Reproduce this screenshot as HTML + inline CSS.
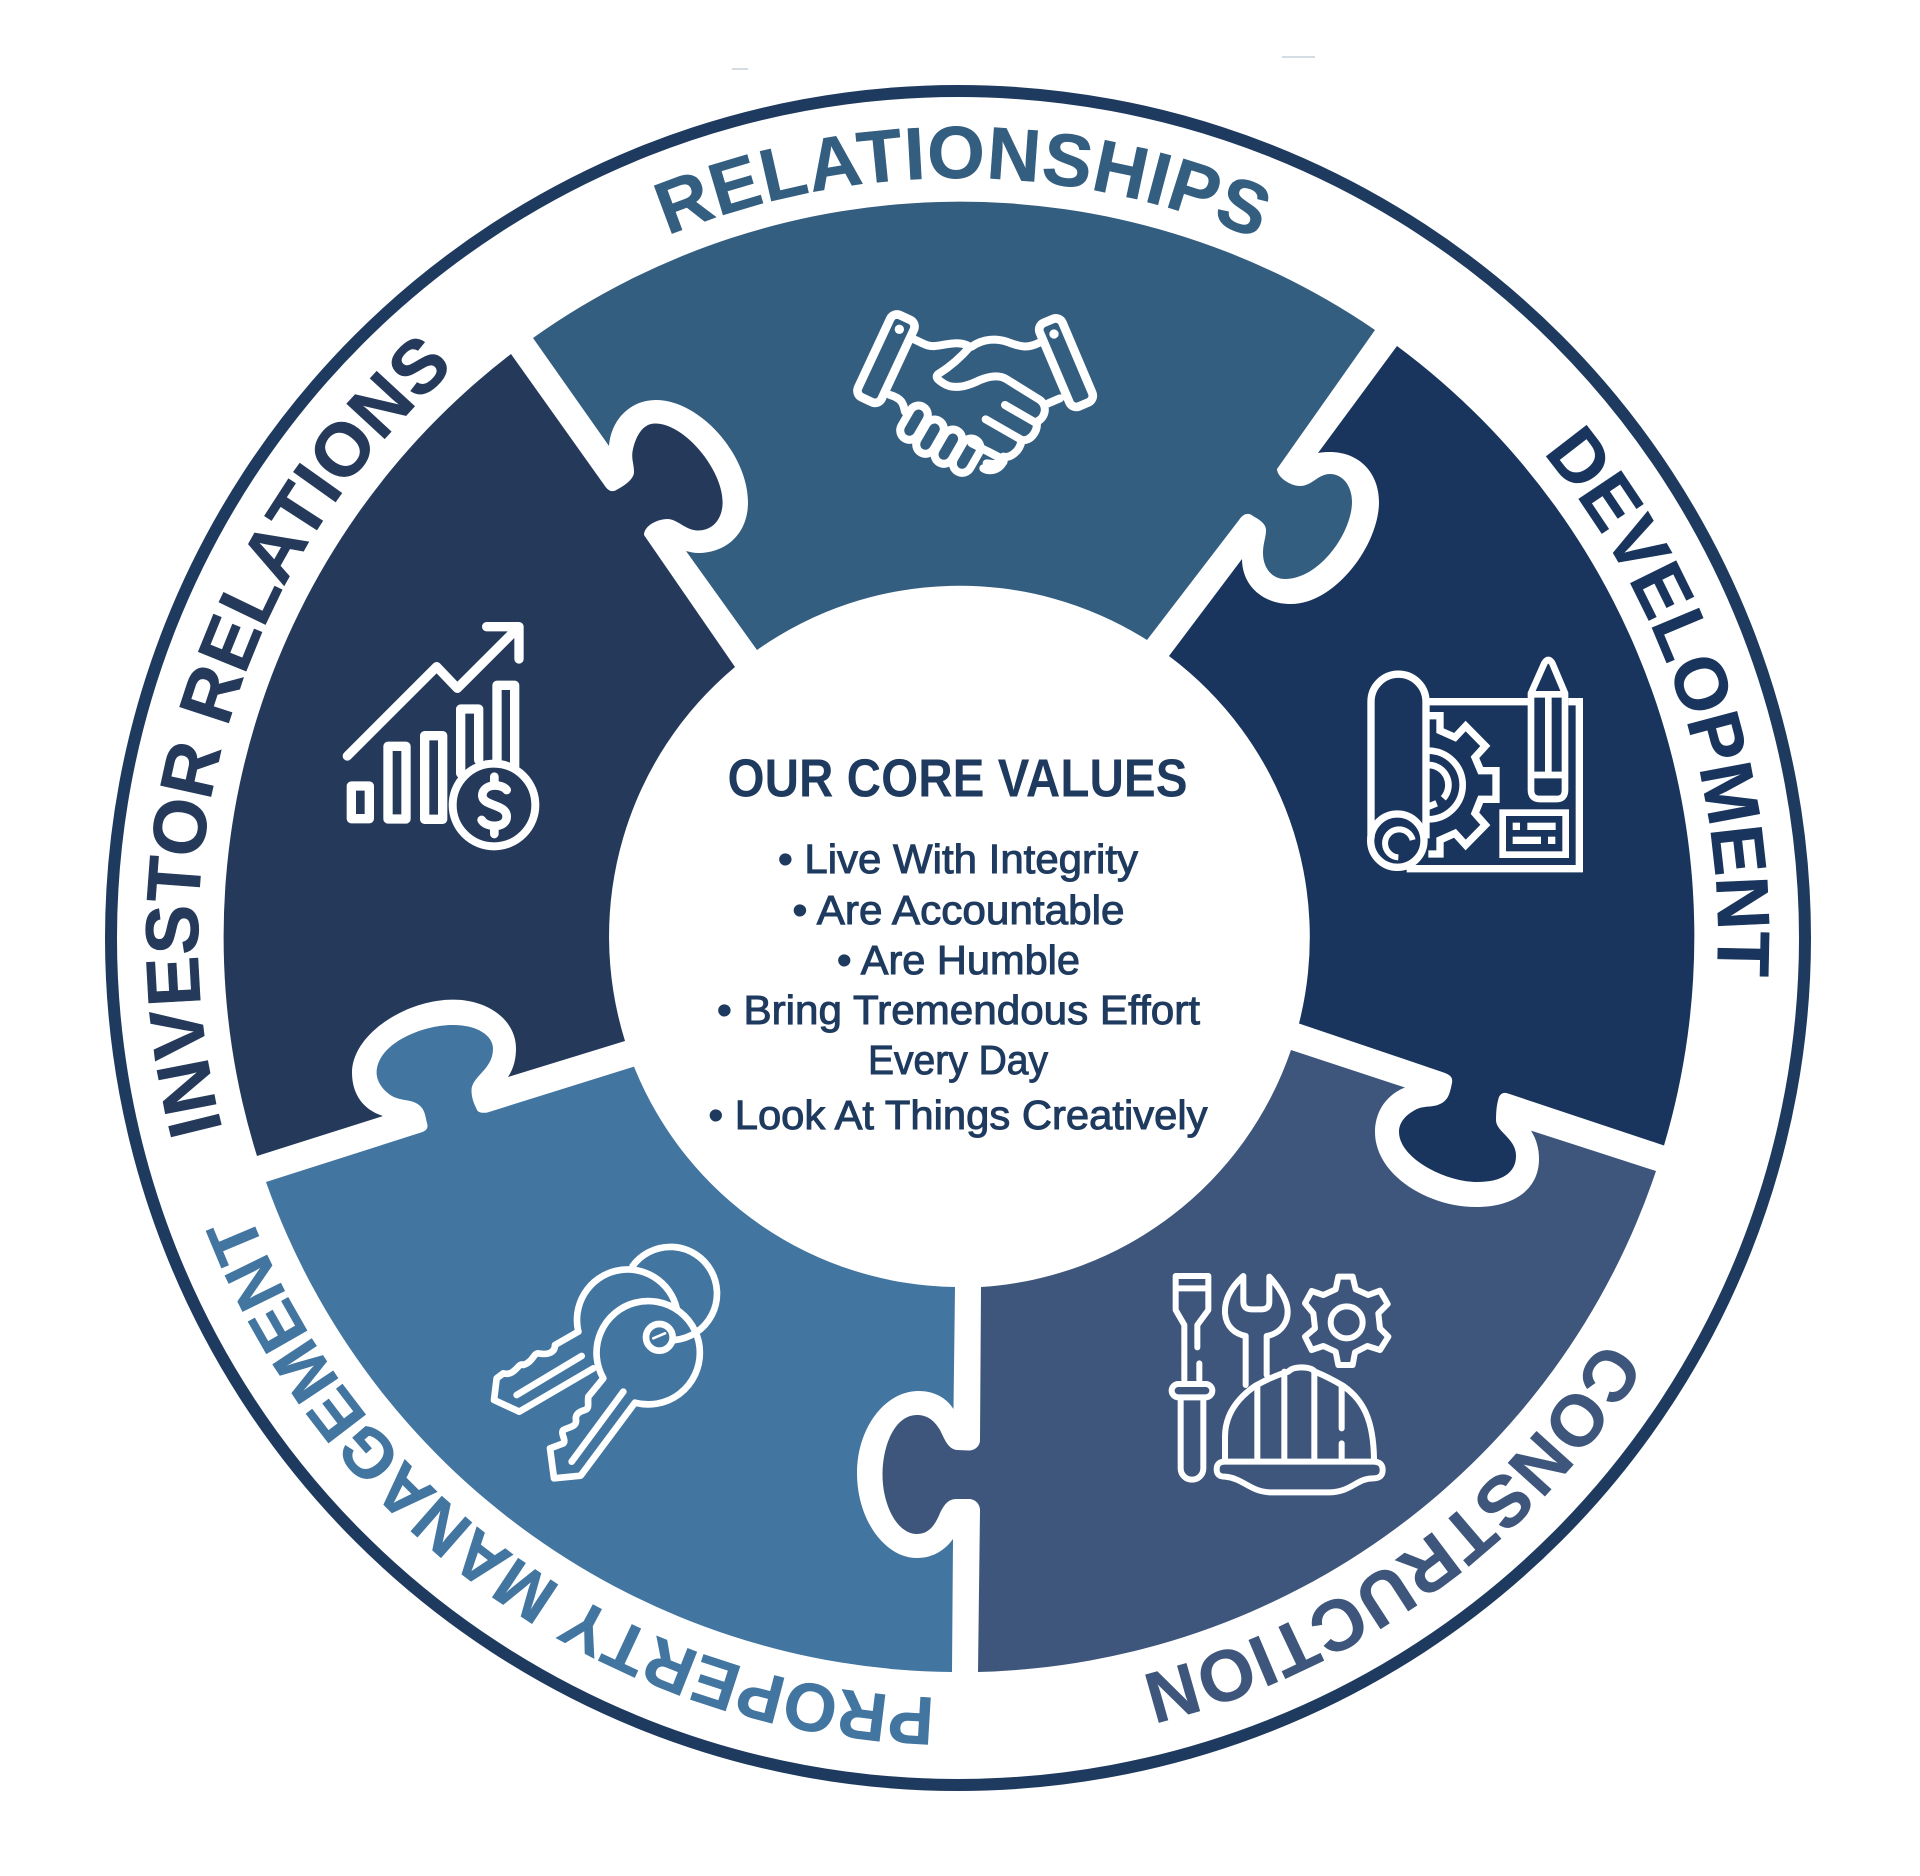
<!DOCTYPE html>
<html><head><meta charset="utf-8"><style>
html,body{margin:0;padding:0;background:#fff}
svg{display:block}
text{font-family:"Liberation Sans",sans-serif}
.l{font-weight:700;font-size:74px}
.b{font-size:41px;fill:#1f3a5f;stroke:#1f3a5f;stroke-width:1px}
.i{fill:none;stroke:#fff;stroke-linecap:round;stroke-linejoin:round}
</style></head><body>
<svg width="1920" height="1876" viewBox="0 0 1920 1876" xmlns="http://www.w3.org/2000/svg">
<defs><path id="c" d="M958 1698A760 760 0 1 1 958 178A760 760 0 1 1 958 1698Z"/></defs>
<rect width="1920" height="1876" fill="#fff"/>
<circle cx="958" cy="938" r="847" fill="none" stroke="#1f3a5f" stroke-width="12"/>
<path d="M1282 57H1315M732 69H748" stroke="#a9b9c8" stroke-width="1"/>

<path fill="#345e80" d="M533 338L609 446C611 420 630 400 656 400C700 400 748 455 748 502C748 535 725 553 698 553C694 553 690 552 686 551L757 650A351 351 0 0 1 1147 640L1239 520C1243 514 1248 512 1253 516C1260 520 1266 524 1266 530C1266 538 1263 543 1263 553C1263 568 1272 579 1285 579C1320 579 1352 532 1352 502C1352 485 1342 474 1330 474C1318 474 1312 486 1300 486C1290 486 1277 477 1277 469L1375 330A736 736 0 0 0 533 338Z"/>
<path fill="#19355d" d="M1397 346L1318 453C1355 447 1379 470 1379 502C1379 545 1335 604 1291 604C1262 604 1242 585 1242 559L1169 656A351 351 0 0 1 1299 1023.5L1444 1072.6C1450 1075 1453 1077 1452 1083C1450 1092 1449 1100 1440 1104C1432 1108 1424 1105 1415 1110C1406 1115 1399 1122 1399 1132C1399 1158 1445 1182 1477 1182C1503 1182 1516 1172 1516 1156C1516 1138 1496 1132 1496 1120C1496 1110 1497 1103 1499 1097C1501 1093 1504 1092 1508 1093.5L1664 1145.5A735 735 0 0 0 1397 346Z"/>
<path fill="#3e567c" d="M1656 1171L1531 1130.6C1537 1140 1539 1150 1539 1159C1539 1190 1513 1207 1476 1207C1428 1207 1375 1175 1375 1132C1375 1110 1388 1094 1405 1087.5L1291 1050A351 351 0 0 1 981 1287L980 1440C980 1446 975 1450.5 969 1450.5L957 1450C948 1449 945 1440 940 1430C934 1420 927 1415 917 1415C895 1415 882.5 1445 882.5 1474.5C882.5 1505 897 1534 917 1534C930 1534 936 1523 940 1513C945 1503 949 1499 957 1499L969 1499C975 1499 980 1504 980 1510L978 1672A735 735 0 0 0 1656 1171Z"/>
<path fill="#4275a0" d="M266 1182L422.500 1132C428 1130 428 1126 427 1123C425 1115 425 1108 416 1103C408 1099 398 1101 389 1094C381 1088 376.600 1080 376.600 1072.600C376.600 1045 420 1025 453 1025C478 1025 493 1036 493 1048.600C493 1070 471.500 1076 471.500 1090.500C471.500 1098 474 1104 477.600 1111C480 1113 483 1113 487 1112.600L634 1066.600A351 351 0 0 0 955 1287L953.500 1409C945 1396 932 1391 918.500 1391C885 1391 857 1428 857 1473C857 1520 885 1558 917 1558C933 1558 945 1550 953 1539L952 1672A735 735 0 0 1 266 1182Z"/>
<path fill="#253a5b" d="M511 354L606 487.500C609 491 612 492 615.500 490.500C622 487 634 480 634 472C634 462 630 458 634 445C638 432 645 423.500 655 423.500C685 423.500 722.600 470 722.600 502C722.600 520 712 530.500 698 530.500C686 530.500 677 519 667.500 519C657 519 644 526 644 535L735 667A351 351 0 0 0 625 1041L508 1077C514 1068 516 1058 516 1048.600C516 1020 488 999.600 453 999.600C405 999.600 352 1035 352 1072.600C352 1095 364 1110 383 1116L257 1156A735 735 0 0 1 511 354Z"/>

<g class="l" stroke-width=".6">
<g transform="rotate(.4 958 938)"><text fill="#345e80" stroke="#345e80" letter-spacing=".9"><textPath href="#c" startOffset="50%" text-anchor="middle">RELATIONSHIPS</textPath></text></g>
<g transform="rotate(71.6 958 938)"><text fill="#19355d" stroke="#19355d" letter-spacing=".1"><textPath href="#c" startOffset="50%" text-anchor="middle">DEVELOPMENT</textPath></text></g>
<g transform="rotate(144 958 938)"><text fill="#3e567c" stroke="#3e567c" style="font-size:72px" letter-spacing=".6"><textPath href="#c" startOffset="50%" text-anchor="middle">CONSTRUCTION</textPath></text></g>
<g transform="rotate(215.3 958 938)"><text fill="#4275a0" stroke="#4275a0" style="font-size:68px" letter-spacing=".2"><textPath href="#c" startOffset="50%" text-anchor="middle">PROPERTY MANAGEMENT</textPath></text></g>
<g transform="rotate(287 958 938)"><text fill="#253a5b" stroke="#253a5b" style="font-size:75px" letter-spacing=".4"><textPath href="#c" startOffset="50%" text-anchor="middle">INVESTOR RELATIONS</textPath></text></g>
</g>

<text x="727.5" y="796.5" font-size="54" font-weight="700" fill="#1f3a5f" textLength="460" lengthAdjust="spacingAndGlyphs">OUR CORE VALUES</text>
<text class="b" x="778" y="873" textLength="360" lengthAdjust="spacingAndGlyphs">• Live With Integrity</text>
<text class="b" x="792.5" y="924" textLength="332" lengthAdjust="spacingAndGlyphs">• Are Accountable</text>
<text class="b" x="837" y="974" textLength="243" lengthAdjust="spacingAndGlyphs">• Are Humble</text>
<text class="b" x="717" y="1024" textLength="483" lengthAdjust="spacingAndGlyphs">• Bring Tremendous Effort</text>
<text class="b" x="868" y="1074" textLength="180" lengthAdjust="spacingAndGlyphs">Every Day</text>
<text class="b" x="708.5" y="1129" textLength="499" lengthAdjust="spacingAndGlyphs">• Look At Things Creatively</text>

<!-- handshake -->
<g transform="translate(840 300) scale(.33333)" class="i" stroke-width="24">
<rect x="99" y="40" width="78" height="272" rx="22" transform="rotate(25 138 176)" stroke-width="26"/>
<rect x="641" y="52" width="74" height="272" rx="22" transform="rotate(-23 678 188)" stroke-width="26"/>
<circle cx="178" cy="88" r="14" fill="#fff" stroke="none"/><circle cx="642" cy="102" r="14" fill="#fff" stroke="none"/>
<path d="M222 118C250 130 260 140 285 138C320 135 355 120 390 140"/>
<path d="M395 140C430 115 470 115 500 125C530 135 555 150 598 128"/>
<path d="M390 140C360 175 330 200 295 222C283 232 295 240 310 250C340 270 380 260 420 240C450 228 480 225 500 238L600 300C625 320 615 355 590 365C595 395 570 425 545 420C540 455 510 475 490 470C495 505 450 520 430 505"/>
<path d="M625 310L660 295M150 285C185 295 190 310 195 335M495 315L590 370M437 358L545 420M395 430L490 478"/>
<rect x="194" y="313" width="56" height="110" rx="28" transform="rotate(30 222 368)"/>
<rect x="242" y="355" width="56" height="110" rx="28" transform="rotate(30 270 410)"/>
<rect x="297" y="385" width="56" height="110" rx="28" transform="rotate(30 325 440)"/>
<rect x="352" y="412" width="56" height="110" rx="28" transform="rotate(30 380 467)"/>
<path d="M445 455L490 480C495 490 480 495 440 490"/>
</g>

<!-- chart -->
<g transform="translate(335 610) scale(.33333)" class="i" stroke-width="28">
<path d="M37 438L305 170L367 235L540 62M455 50H552V147"/>
<path d="M49 528H103V626H49ZM159 409H213V627H159ZM269 377H323V628H269ZM377 490V297H431V450M486 455V226H539V470"/>
<circle cx="477" cy="585" r="124" stroke-width="24"/>
<path stroke-width="26" d="M515 540C500 520 445 520 442 555C440 590 515 580 515 620C515 655 455 655 440 630M478 500V525M478 650V672"/>
</g>

<!-- blueprint -->
<g transform="translate(1360 650) scale(.33333)" class="i" stroke-width="22">
<g stroke-linecap="butt" stroke-linejoin="miter">
<path d="M33 565V155A82.500 82.500 0 0 1 198 155V565"/>
<circle cx="112" cy="572" r="80"/>
<path d="M115 622A42 42 0 1 1 158 570" stroke-width="18"/>
<path d="M205 155H505M625 155H658V656H140"/>
<path d="M205 197H240V242L285 262L317 228L376 288L345 322L362 362H408V448H362L345 490L376 525L317 585L285 550L240 570V612H205"/>
<path d="M205 302A103 103 0 0 1 205 508M205 345A60 60 0 0 1 250 445M205 470L230 460" stroke-width="20"/>
<path d="M513 130L553 40Q565 20 577 40L615 130V420Q615 447 590 447H540Q513 447 513 420Z" stroke-width="20"/>
<path d="M513 133H615M565 133V375M513 375H615" stroke-width="20"/>
<rect x="428" y="488" width="189" height="126" stroke-width="20"/>
</g>
<g fill="#fff" stroke="none"><rect x="458" y="518" width="22" height="22"/><rect x="502" y="518" width="85" height="22"/><rect x="458" y="560" width="85" height="22"/><rect x="564" y="560" width="22" height="22"/></g>
</g>

<!-- keys -->
<g transform="translate(480 1230) scale(.33333)" class="i" stroke-width="20">
<path d="M458 108A140 140 0 1 1 585 330"/>
<path d="M295 305A150 150 0 0 1 590 235"/>
<path d="M295 305L225 345C225 370 200 375 175 370C160 370 160 395 130 405C115 395 105 440 70 430L50 445L42 510L118 545L340 415M110 495L305 378"/>
<path d="M370 445A155 155 0 1 1 465 518L302 737L222 745L210 655L250 640C260 630 240 610 250 600C270 590 290 590 288 570C285 555 295 545 315 540C330 535 322 520 325 500L370 445M275 695L430 485"/>
<circle cx="538" cy="322" r="40"/>
<path d="M520 325L555 310" stroke-width="8"/>
</g>

<!-- tools -->
<g transform="translate(1160 1260) scale(.33333)" class="i" stroke-width="18">
<path d="M47 48H145V150L112 195V262M47 48V150L73 195V360M118 310V360M47 85H145"/>
<rect x="35" y="372" width="122" height="40" rx="20"/>
<path d="M62 420V625A34 34 0 0 0 130 625V420"/>
<path d="M250 48C210 85 193 120 195 160C198 200 225 222 257 228V375M320 228V345M320 228C355 222 383 195 383 155C383 120 355 80 328 50V125Q328 148 305 148H275Q250 148 250 125V48"/>
<path d="M535 50H578L587 88L625 105L660 92L683 132L655 160L660 205L685 230L660 270L622 258L585 277L578 315H535L527 275L490 258L455 270L435 230L465 205L460 160L435 130L455 93L490 105L527 88Z"/>
<circle cx="560" cy="187" r="48"/>
<path d="M195 595V530C195 470 225 420 285 378C320 358 350 345 385 335C400 318 450 318 465 335C490 345 520 360 550 378C610 420 640 480 642 595"/>
<path d="M292 375V595M373 335V595M463 335V595M545 375V505M545 550V595"/>
<path d="M195 605H640Q668 605 668 630Q668 655 640 655C590 655 575 695 510 697H330C270 695 250 655 195 650Q170 650 170 628Q170 605 195 605Z"/>
</g>
</svg>
</body></html>
